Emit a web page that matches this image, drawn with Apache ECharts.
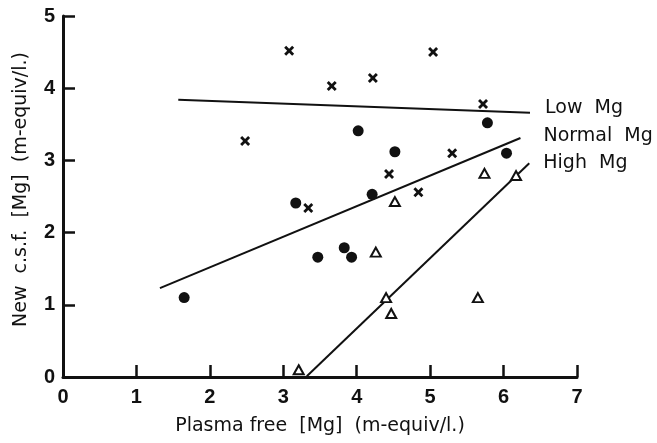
<!DOCTYPE html>
<html lang="en">

<head>
    <meta charset="UTF-8">
    <title>New c.s.f. Mg vs plasma free Mg</title>
    <script src="https://cdnjs.cloudflare.com/ajax/libs/echarts/6.0.0/echarts.min.js"></script>
    <style>
        html, body { margin: 0; padding: 0; background: #fff; }
        #chart { width: 657px; height: 443px; }
    </style>
</head>

<body>
    <div id="chart"></div>
    <script>
        // crosses = low Mg, dots = normal Mg, triangles = high Mg
        let lowX = [3.08, 3.66, 4.22, 5.04, 5.72, 2.48, 5.30, 4.44, 4.84, 3.34];
        let lowY = [4.52, 4.03, 4.14, 4.50, 3.78, 3.27, 3.10, 2.81, 2.56, 2.34];
        let normalX = [4.02, 5.78, 4.52, 6.04, 4.21, 3.17, 3.47, 3.83, 3.93, 1.65];
        let normalY = [3.41, 3.52, 3.12, 3.10, 2.53, 2.41, 1.66, 1.79, 1.66, 1.10];
        let highX = [5.74, 6.17, 4.52, 4.26, 4.40, 4.47, 5.65, 3.21];
        let highY = [2.82, 2.79, 2.43, 1.73, 1.10, 0.88, 1.10, 0.10];

        // regression lines, [start, end]
        let lowLineX = [1.57, 6.36];
        let lowLineY = [3.84, 3.66];
        let normalLineX = [1.32, 6.23];
        let normalLineY = [1.23, 3.31];
        let highLineX = [3.32, 6.35];
        let highLineY = [0.01, 2.96];

        let lineNames = ['Low  Mg', 'Normal  Mg', 'High  Mg'];

        let xTicks = ['0', '1', '2', '3', '4', '5', '6', '7'];
        let yTicks = ['0', '1', '2', '3', '4', '5'];

        let crossPath = 'path://M0,2L2,0L5,3L8,0L10,2L7,5L10,8L8,10L5,7L2,10L0,8L3,5Z';
        let font = 'DejaVu Sans';

        function pairs(xs, ys) {
            return xs.map((x, i) => [x, ys[i]]);
        }

        function fitLine(xs, ys, name, dist, off) {
            return {
                type: 'line',
                data: pairs(xs, ys),
                symbol: 'none',
                lineStyle: { color: '#111', width: 2 },
                endLabel: {
                    show: true,
                    distance: dist,
                    offset: off,
                    formatter: name,
                    color: '#111',
                    fontFamily: font,
                    fontSize: 19
                },
                silent: true,
                z: 2
            };
        }

        let myChart = echarts.init(document.getElementById('chart'));

        let options = {
            animation: false,
            backgroundColor: '#fff',
            grid: { left: 63, right: 80, top: 16, bottom: 66 },
            xAxis: {
                type: 'value',
                min: 0,
                max: 7,
                interval: 1,
                name: 'Plasma free  [Mg]  (m-equiv/l.)',
                nameLocation: 'middle',
                nameGap: 40,
                nameTextStyle: { color: '#111', fontFamily: font, fontSize: 19 },
                axisLine: { lineStyle: { color: '#111', width: 3 } },
                axisTick: { inside: true, length: 12, lineStyle: { color: '#111', width: 2.5 } },
                axisLabel: {
                    margin: 10,
                    color: '#111',
                    fontFamily: 'Liberation Sans',
                    fontWeight: 'bold',
                    fontSize: 20,
                    formatter: (v) => xTicks[Math.round(v)]
                },
                splitLine: { show: false }
            },
            yAxis: {
                type: 'value',
                min: 0,
                max: 5,
                interval: 1,
                name: 'New  c.s.f.  [Mg]  (m-equiv/l.)',
                nameLocation: 'middle',
                nameGap: 32,
                nameTextStyle: { color: '#111', fontFamily: font, fontSize: 19, padding: [0, 0, 0, 14] },
                axisLine: { lineStyle: { color: '#111', width: 3 } },
                axisTick: { inside: true, length: 12, lineStyle: { color: '#111', width: 2.5 } },
                axisLabel: {
                    margin: 8,
                    color: '#111',
                    fontFamily: 'Liberation Sans',
                    fontWeight: 'bold',
                    fontSize: 20,
                    formatter: (v) => yTicks[Math.round(v)]
                },
                splitLine: { show: false }
            },
            series: [
                {
                    name: 'Low Mg',
                    type: 'scatter',
                    data: pairs(lowX, lowY),
                    symbol: crossPath,
                    symbolSize: [10, 10],
                    itemStyle: { color: '#111', opacity: 1 },
                    z: 3
                },
                {
                    name: 'Normal Mg',
                    type: 'scatter',
                    data: pairs(normalX, normalY),
                    symbol: 'circle',
                    symbolSize: 11,
                    itemStyle: { color: '#111', opacity: 1 },
                    z: 3
                },
                {
                    name: 'High Mg',
                    type: 'scatter',
                    data: pairs(highX, highY),
                    symbol: 'triangle',
                    symbolSize: [10, 9],
                    itemStyle: { color: '#fff', borderColor: '#111', borderWidth: 2, opacity: 1 },
                    z: 3
                },
                fitLine(lowLineX, lowLineY, lineNames[0], 15, [0, -5]),
                fitLine(normalLineX, normalLineY, lineNames[1], 23, [0, -2]),
                fitLine(highLineX, highLineY, lineNames[2], 14, [0, 0])
            ]
        };
        myChart.setOption(options);
    </script>
</body>

</html>
